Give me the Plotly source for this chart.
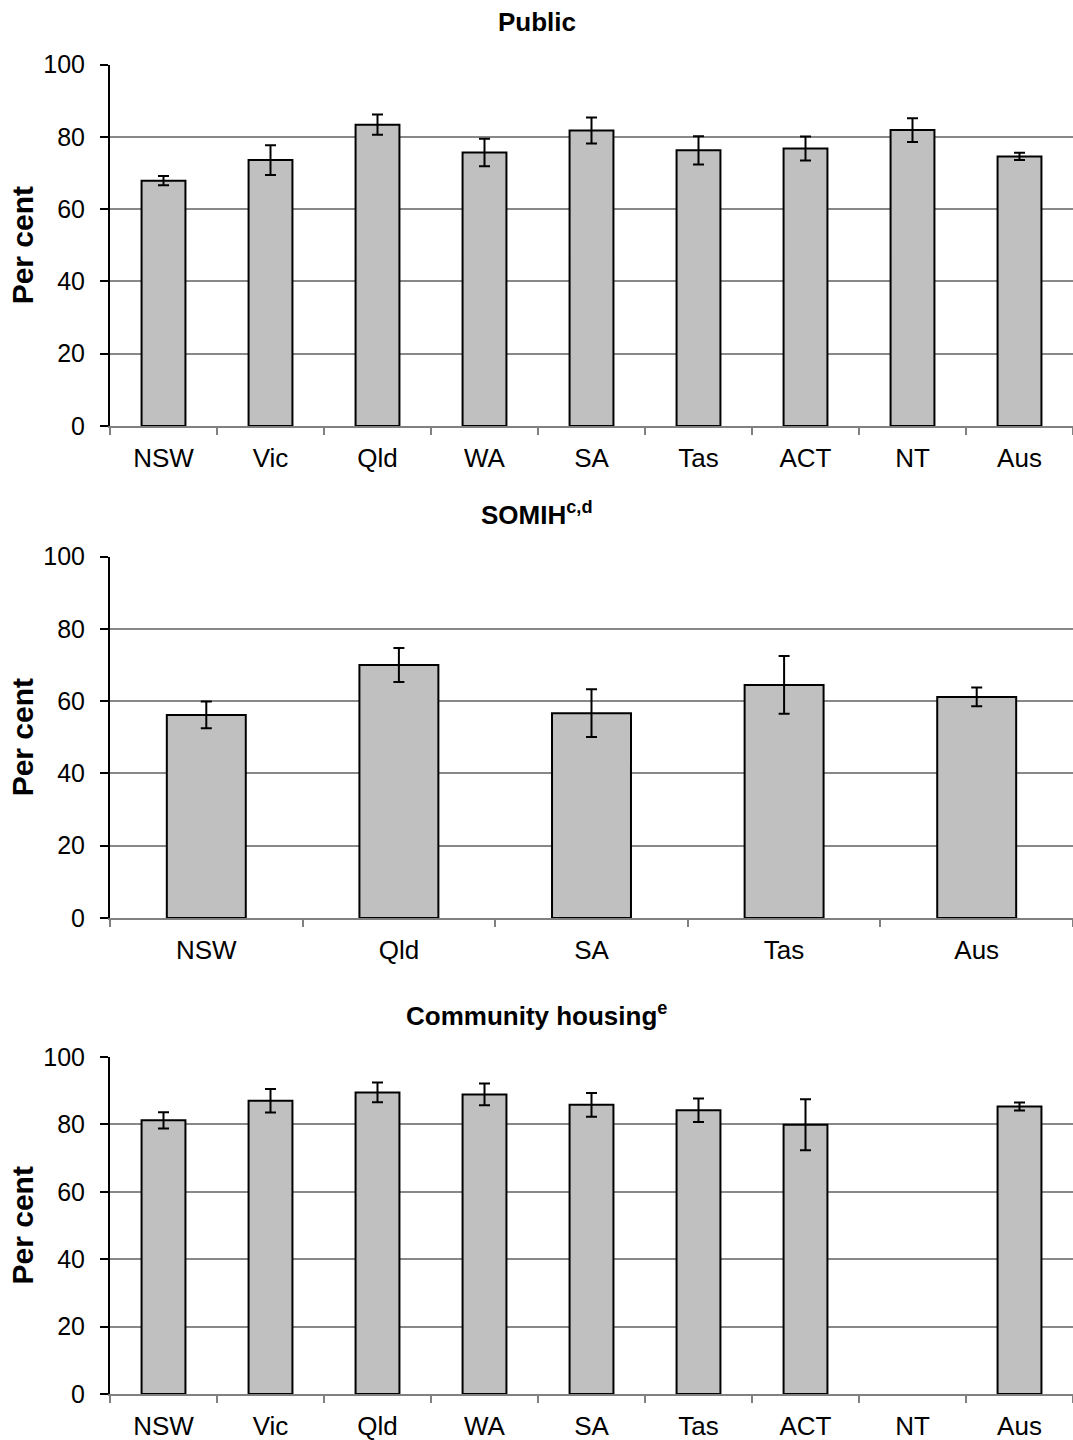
import plotly.graph_objects as go

# Share of tenants satisfied, by jurisdiction and housing program (per cent, with 95% CIs)
public_states = ["NSW", "Vic", "Qld", "WA", "SA", "Tas", "ACT", "NT", "Aus"]
public_values = [67.9, 73.6, 83.4, 75.7, 81.8, 76.3, 76.8, 81.9, 74.6]
public_errors = [1.3, 4.1, 2.8, 3.8, 3.6, 3.9, 3.3, 3.3, 1.0]

somih_states = ["NSW", "Qld", "SA", "Tas", "Aus"]
somih_values = [56.2, 70.0, 56.7, 64.5, 61.2]
somih_errors = [3.7, 4.7, 6.6, 8.0, 2.6]

community_states = ["NSW", "Vic", "Qld", "WA", "SA", "Tas", "ACT", "NT", "Aus"]
community_values = [81.2, 87.0, 89.5, 88.9, 85.8, 84.2, 79.9, None, 85.3]
community_errors = [2.4, 3.5, 2.9, 3.2, 3.5, 3.5, 7.6, None, 1.2]

y_ticks = [0, 20, 40, 60, 80, 100]

W, H = 1073, 1440
FONT = "Liberation Sans, Arial, sans-serif"

panels = [
    ("Public", public_states, public_values, public_errors, (64.7, 426.0)),
    ("SOMIH<sup>c,d</sup>", somih_states, somih_values, somih_errors, (556.7, 918.0)),
    ("Community housing<sup>e</sup>", community_states, community_values, community_errors, (1057.0, 1394.0)),
]

fig = go.Figure()
annotations = []
x_left = 110.0

for i, (title, cats, vals, errs, (top_px, bot_px)) in enumerate(panels, start=1):
    xa = "x" if i == 1 else f"x{i}"
    ya = "y" if i == 1 else f"y{i}"
    fig.add_trace(go.Bar(
        x=cats, y=vals, xaxis=xa, yaxis=ya,
        marker=dict(color="#C0C0C0", line=dict(color="#000000", width=2)),
        error_y=dict(type="data", array=errs, visible=True,
                     color="#000000", thickness=2, width=5.5),
        width=0.41, showlegend=False, hoverinfo="x+y",
    ))
    dom_y = [1 - bot_px / H, 1 - top_px / H]
    fig.update_layout(**{
        ("xaxis" if i == 1 else f"xaxis{i}"): dict(
            domain=[x_left / W, 1.0], anchor=ya, type="category",
            categoryorder="array", categoryarray=cats,
            showline=True, linecolor="#808080", linewidth=1.5,
            ticks="outside", tickson="boundaries", ticklen=7,
            tickcolor="#808080", tickwidth=1.5, showgrid=False,
            tickfont=dict(family=FONT, size=26, color="#000000"),
            ticklabelstandoff=8, automargin=False,
        ),
        ("yaxis" if i == 1 else f"yaxis{i}"): dict(
            domain=dom_y, anchor=xa, range=[0, 100],
            tickvals=y_ticks, showline=True, linecolor="#000000", linewidth=2,
            ticks="outside", ticklen=8, tickcolor="#000000", tickwidth=2,
            showgrid=True, gridcolor="#888888", gridwidth=1.5,
            zeroline=False,
            tickfont=dict(family=FONT, size=25, color="#000000"),
            ticklabelstandoff=10, automargin=False,
        ),
    })
    # panel title
    annotations.append(dict(
        text=f"<b>{title}</b>", xref="paper", yref="paper",
        x=0.5, y=1 - (top_px - 43) / H,
        xanchor="center", yanchor="middle", showarrow=False,
        font=dict(family=FONT, size=26, color="#000000"),
    ))
    # y-axis title
    annotations.append(dict(
        text="<b>Per cent</b>", xref="paper", yref="paper",
        x=22 / W, y=1 - (top_px + bot_px) / 2 / H,
        xanchor="center", yanchor="middle", showarrow=False, textangle=-90,
        font=dict(family=FONT, size=30, color="#000000"),
    ))

fig.update_layout(
    width=W, height=H,
    margin=dict(l=0, r=0, t=0, b=0, autoexpand=False),
    paper_bgcolor="#FFFFFF", plot_bgcolor="#FFFFFF",
    bargap=0.59, annotations=annotations,
    font=dict(family=FONT, color="#000000"),
)

fig.write_html("out.html")
